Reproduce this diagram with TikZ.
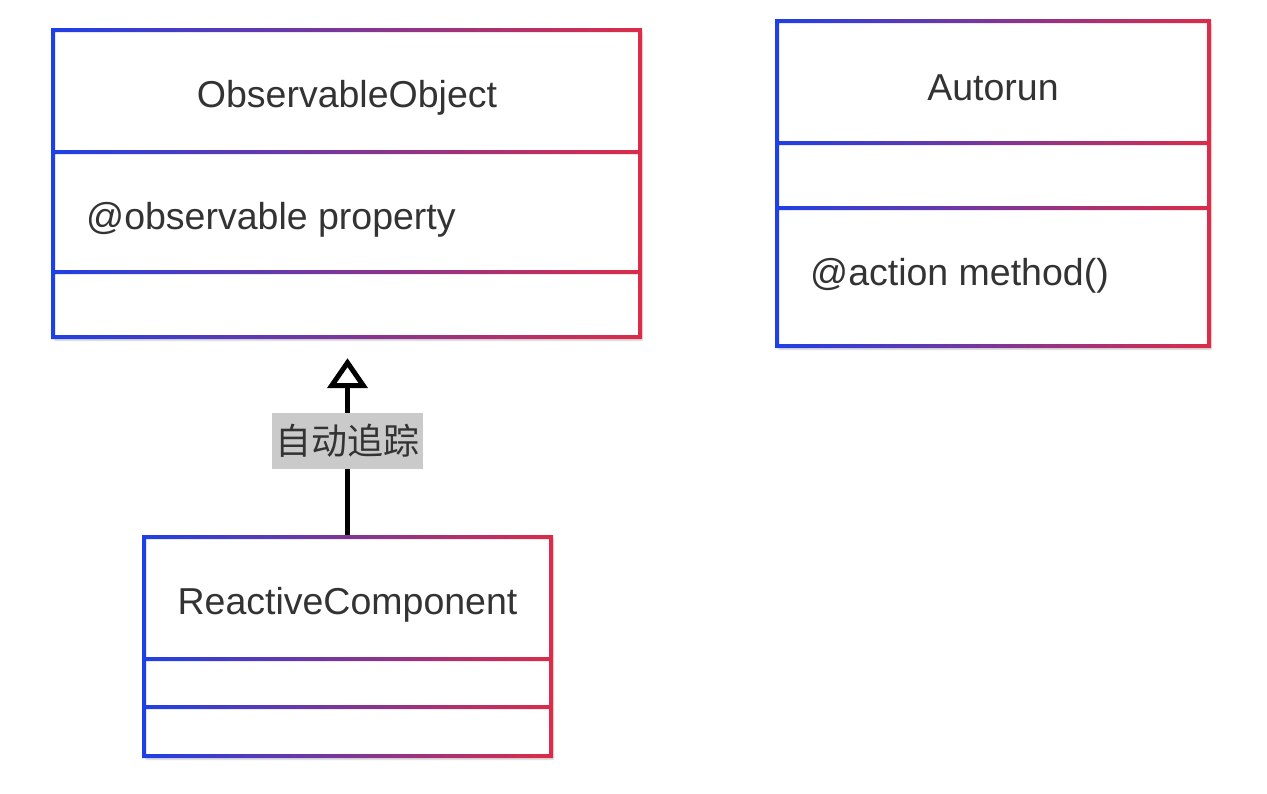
\documentclass[tikz,border=0pt]{standalone}
\usepackage{fontspec}
\setmainfont{Liberation Sans}
\newfontfamily\cjkfont{Noto Sans CJK SC}
\usetikzlibrary{arrows.meta, positioning, calc, shadows.blur}
\definecolor{frameblue}{HTML}{1E40E6}
\definecolor{framered}{HTML}{DC2C48}
\definecolor{inkgray}{HTML}{333333}
\definecolor{labelgray}{HTML}{CACACA}
\tikzset{
  classframe/.style={left color=frameblue, right color=framered, even odd rule},
  classbody/.style={fill=white, blur shadow={shadow xshift=2pt, shadow yshift=-3pt, shadow opacity=20, shadow blur steps=6}},
  classtext/.style={text=inkgray, font=\fontsize{37.5}{45}\selectfont, anchor=base, inner sep=0pt},
  classbox/.style={draw=none, inner sep=0pt},
}
\begin{document}
\begin{tikzpicture}[x=1pt, y=-1pt]
  \useasboundingbox (0,0) rectangle (1267,793);

  % Class bodies
  \fill[classbody] (53,30) rectangle (640,337);
  \fill[classbody] (777,21) rectangle (1209,346);
  \fill[classbody] (144,537) rectangle (551,756);
  \node[classbox, minimum width=587pt, minimum height=307pt] (observable) at (346.5,183.5) {};
  \node[classbox, minimum width=432pt, minimum height=325pt] (autorun) at (993,183.5) {};
  \node[classbox, minimum width=407pt, minimum height=219pt] (reactive) at (347.5,646.5) {};

  % Tracking relation
  \draw[line width=5pt, -{Triangle[open, length=30pt, width=40pt]}, shorten >=21pt]
    (reactive.north) -- (reactive.north |- observable.south)
    node[pos=0.48, fill=labelgray, text=inkgray, font=\cjkfont\fontsize{36}{36}\selectfont,
         inner xsep=3.5pt, inner ysep=0pt, minimum height=56pt] (tracklabel) {自动追踪};

  % ObservableObject frame
  \shade[classframe] (51,28) rectangle (642,339) (55,32) rectangle (638,335)
    (55,150) rectangle (638,154) (55,270) rectangle (638,274);
  \node[classtext] (observabletitle) at (347,107) {ObservableObject};
  \node[classtext, anchor=base west] (observableprop) at (86,229) {@observable property};

  % Autorun frame
  \shade[classframe] (775,19) rectangle (1211,348) (779,23) rectangle (1207,344)
    (779,141) rectangle (1207,145) (779,206) rectangle (1207,210);
  \node[classtext] (autoruntitle) at (993,100) {Autorun};
  \node[classtext, anchor=base west] (autorunmethod) at (810,285) {@action method()};

  % ReactiveComponent frame
  \shade[classframe] (142,535) rectangle (553,758) (146,539) rectangle (549,754)
    (146,657) rectangle (549,661) (146,705) rectangle (549,709);
  \node[classtext] (reactivetitle) at (347.5,614) {ReactiveComponent};
\end{tikzpicture}
\end{document}
